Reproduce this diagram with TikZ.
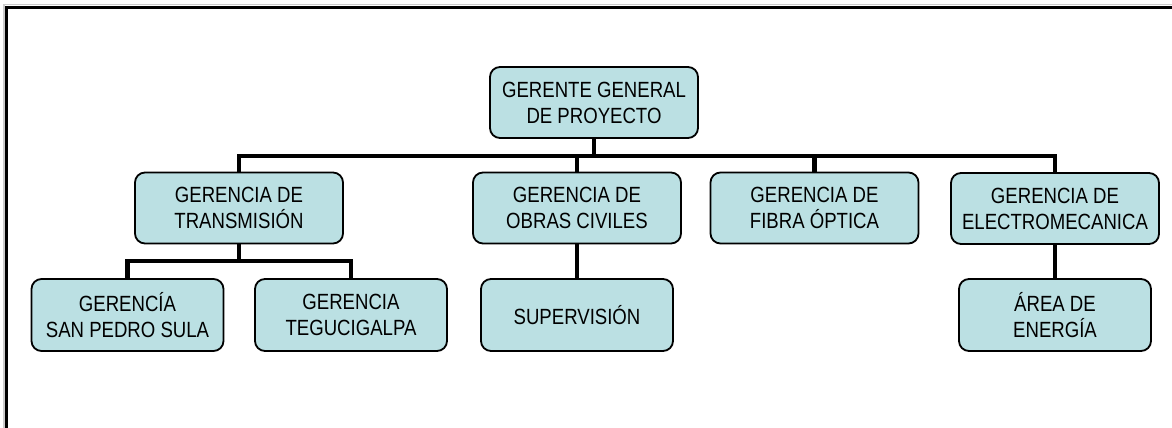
\documentclass[tikz,border=0pt]{standalone}
\usepackage{fontspec}
\newfontfamily\orgfont{Liberation Sans}[FakeStretch=0.845]
\usetikzlibrary{positioning}
\definecolor{boxfill}{RGB}{187,224,227}
\tikzset{
  box/.style={draw=black, line width=0.9pt, fill=boxfill, rounded corners=5pt,
    align=center, minimum width=104pt, minimum height=35.5pt, inner sep=0pt,
    font=\orgfont\fontsize{11}{13}\selectfont},
  subbox/.style={box, minimum width=96pt, minimum height=36pt},
  link/.style={line width=2.4pt}
}

\begin{document}
\begin{tikzpicture}[x=0.5pt,y=-0.5pt]
  \useasboundingbox (0,0) rectangle (1172,428);
  % frame
  \draw[gray!40, line width=0.6pt] (4,428) -- (4,4.5) -- (1172,4.5);
  \draw[line width=1.9pt] (6.5,428) -- (6.5,7.5) -- (1172,7.5);

  % top
  \node[box] (gerente) at (594,102.5) {GERENTE GENERAL\\DE PROYECTO};

  % second level
  \node[box] (transmision) at (239,208) {GERENCIA DE\\TRANSMISIÓN};
  \node[box] (obras) at (577,208) {GERENCIA DE\\OBRAS CIVILES};
  \node[box] (fibra) at (814.5,208) {GERENCIA DE\\FIBRA ÓPTICA};
  \node[box] (electro) at (1055,208.5) {GERENCIA DE\\ELECTROMECANICA};

  % third level
  \node[subbox] (sps) at (127.5,315) {GERENCÍA\\SAN PEDRO SULA};
  \node[subbox] (tegus) at (351,315) {GERENCIA\\TEGUCIGALPA};
  \node[subbox] (supervision) at (577,315) {SUPERVISIÓN};
  \node[subbox] (energia) at (1055,315) {ÁREA DE\\ENERGÍA};

  \coordinate (bus) at (0,156);
  \coordinate (subbus) at (0,261);

  % connectors
  \draw[link] (gerente.south) -- (gerente.south |- bus);
  \draw[link] (transmision.north) -- (transmision.north |- bus)
    -- (electro.north |- bus) -- (electro.north);
  \draw[link] (obras.north) -- (obras.north |- bus);
  \draw[link] (fibra.north) -- (fibra.north |- bus);
  \draw[link] (transmision.south) -- (transmision.south |- subbus);
  \draw[link] (sps.north) -- (sps.north |- subbus)
    -- (tegus.north |- subbus) -- (tegus.north);
  \draw[link] (obras.south) -- (supervision.north);
  \draw[link] (electro.south) -- (energia.north);
\end{tikzpicture}
\end{document}
